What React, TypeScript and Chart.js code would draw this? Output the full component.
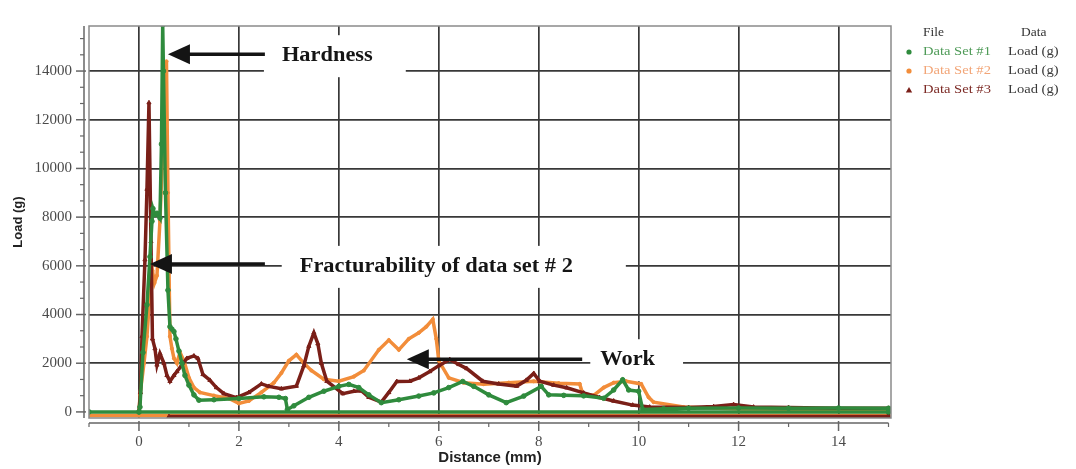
import React, { useEffect, useRef } from "react";
import { Chart, registerables } from "chart.js";

Chart.register(...registerables);

// ---------- data ----------
const seriesNames = ["Data Set #1", "Data Set #2", "Data Set #3"];
const dataColumnLabel = "Load (g)";

const xTicks = [0, 2, 4, 6, 8, 10, 12, 14];
const xMinorTicks = [-1, 1, 3, 5, 7, 9, 11, 13, 15];
const yTicks = [0, 2000, 4000, 6000, 8000, 10000, 12000, 14000];

// [distance (mm), load (g)]
const dataSet1: [number, number][] = [
  [-1, 0], [0, 0], [0.02, 200], [0.08, 2440], [0.16, 4400], [0.22, 6370], [0.26, 7830],
  [0.28, 8350], [0.32, 8100], [0.36, 8160], [0.42, 7960], [0.45, 11000], [0.475, 15900],
  [0.49, 14000], [0.53, 9000], [0.58, 5000], [0.62, 3500], [0.66, 3400], [0.7, 3300],
  [0.74, 3000], [0.8, 2500], [0.86, 2000], [0.92, 1500], [1.0, 1100], [1.1, 700],
  [1.2, 480], [1.5, 500], [2.0, 550], [2.5, 620], [2.8, 600], [2.93, 550], [2.97, 100],
  [3.1, 250], [3.4, 600], [3.7, 850], [4.0, 1050], [4.2, 1130], [4.4, 1000], [4.6, 700],
  [4.85, 380], [5.2, 500], [5.6, 650], [5.9, 780], [6.2, 1000], [6.48, 1250], [6.7, 1050],
  [7.0, 700], [7.35, 380], [7.7, 650], [8.05, 1050], [8.2, 700], [8.5, 680], [8.9, 660],
  [9.3, 560], [9.5, 900], [9.68, 1320], [9.8, 900], [10.0, 850], [10.08, 100], [10.5, 130],
  [11, 150], [12, 160], [13, 150], [14, 160], [15, 150], [15, 0], [0, 0],
];

const dataSet2: [number, number][] = [
  [-1, -150], [0, -150], [0.02, 700], [0.1, 2000], [0.16, 3100], [0.22, 4900], [0.27, 5800],
  [0.31, 5300], [0.36, 5600], [0.42, 7850], [0.48, 11000], [0.53, 13500], [0.55, 14400],
  [0.58, 9000], [0.62, 3100], [0.66, 2600], [0.7, 2200], [0.76, 2000], [0.82, 2450],
  [0.9, 2100], [1.0, 1400], [1.1, 1000], [1.22, 800], [1.5, 670], [1.8, 550], [2.0, 350],
  [2.2, 450], [2.45, 800], [2.7, 1200], [2.85, 1600], [3.0, 2100], [3.15, 2350], [3.3, 2000],
  [3.45, 1700], [3.7, 1340], [4.0, 1260], [4.3, 1450], [4.5, 1700], [4.8, 2550], [5.0, 2950],
  [5.2, 2550], [5.4, 3000], [5.6, 3250], [5.75, 3500], [5.88, 3800], [5.95, 3000],
  [6.0, 2100], [6.2, 1400], [6.5, 1200], [6.9, 1140], [7.4, 1200], [7.9, 1260], [8.4, 1180],
  [8.82, 1150], [8.88, 750], [9.1, 680], [9.3, 1000], [9.5, 1200], [9.75, 1260],
  [10.05, 1150], [10.2, 600], [10.3, 400], [10.9, 200], [12, 120], [13, 110], [14, 100],
  [15, 100], [15, -150], [0, -150],
];

const dataSet3: [number, number][] = [
  [0, 0], [0.03, 800], [0.06, 3100], [0.12, 6250], [0.16, 9150], [0.2, 12700], [0.24, 7000],
  [0.27, 3000], [0.32, 2600], [0.36, 1930], [0.42, 2400], [0.5, 2000], [0.56, 1500],
  [0.62, 1260], [0.7, 1500], [0.76, 1660], [0.85, 1900], [0.96, 2200], [1.1, 2300],
  [1.18, 2200], [1.28, 1540], [1.42, 1300], [1.55, 1000], [1.7, 750], [1.95, 590],
  [2.2, 800], [2.45, 1150], [2.6, 1050], [2.85, 950], [3.15, 1060], [3.3, 1900], [3.4, 2700],
  [3.5, 3250], [3.58, 2800], [3.65, 2000], [3.76, 1260], [4.08, 750], [4.3, 850], [4.45, 870],
  [4.6, 600], [4.85, 400], [5.0, 800], [5.16, 1250], [5.42, 1260], [5.6, 1400], [5.82, 1660],
  [6.0, 1900], [6.22, 2150], [6.4, 1950], [6.56, 1780], [6.88, 1260], [7.2, 1150],
  [7.56, 1060], [7.75, 1300], [7.9, 1580], [8.02, 1260], [8.3, 1100], [8.56, 990],
  [8.9, 780], [9.22, 590], [9.5, 450], [9.88, 280], [10.22, 200], [11, 180], [11.5, 220],
  [11.9, 300], [12.3, 200], [13, 180], [14, 150], [15, 150], [15, -190], [0.6, -190],
];

// annotation anchors in data units
const annotations = [
  { text: "Hardness", tipX: 0.58, tipY: 14690, tailX: 2.52, textX: 3.77, textY: 14610, padL: 18, padR: 33 },
  { text: "Fracturability of data set # 2", tipX: 0.22, tipY: 6076, tailX: 2.52, textX: 5.95, textY: 5957, padL: 18, padR: 53 },
  { text: "Work", tipX: 5.36, tipY: 2162, tailX: 8.87, textX: 9.78, textY: 2123, padL: 10, padR: 28 },
];

// ---------- styles ----------
const GREEN = "#2f8b3d";
const ORANGE = "#f28d3a";
const RED = "#7a1f18";
const LEGEND_TEXT = ["#4f9b58", "#f2a577", "#7d2b26"];
const STRETCH = 1.12;
const SERIF = "'Liberation Serif', 'Times New Roman', serif";
const SANS = "'Liberation Sans', Arial, sans-serif";

function drawStretchedText(ctx: CanvasRenderingContext2D, text: string, x: number, y: number, font: string, color: string, align: CanvasTextAlign = "left") {
  ctx.save();
  ctx.translate(x, y);
  ctx.scale(STRETCH, 1);
  ctx.font = font;
  ctx.fillStyle = color;
  ctx.textAlign = align;
  ctx.textBaseline = "middle";
  ctx.fillText(text, 0, 0);
  ctx.restore();
}

const decorPlugin = {
  id: "decor",
  beforeDatasetsDraw(chart: any) {
    const { ctx, scales } = chart;
    const xs = scales.x, ys = scales.y;
    ctx.save();
    ctx.fillStyle = "#ffffff";
    ctx.font = `bold 20px ${SERIF}`;
    for (const an of annotations) {
      const cx = xs.getPixelForValue(an.textX);
      const cy = ys.getPixelForValue(an.textY);
      const w = ctx.measureText(an.text).width * STRETCH;
      ctx.fillRect(cx - w / 2 - an.padL, cy - 21, w + an.padL + an.padR, 42);
    }
    ctx.restore();
  },
  afterDatasetsDraw(chart: any) {
    const { ctx, scales } = chart;
    const xs = scales.x, ys = scales.y;
    for (const an of annotations) {
      const tx = xs.getPixelForValue(an.tipX);
      const ty = ys.getPixelForValue(an.tipY);
      const ex = xs.getPixelForValue(an.tailX);
      ctx.save();
      ctx.strokeStyle = "#141414";
      ctx.fillStyle = "#141414";
      ctx.lineWidth = 3.5;
      ctx.beginPath();
      ctx.moveTo(tx + 18, ty);
      ctx.lineTo(ex, ty);
      ctx.stroke();
      ctx.beginPath();
      ctx.moveTo(tx, ty);
      ctx.lineTo(tx + 22, ty - 10);
      ctx.lineTo(tx + 22, ty + 10);
      ctx.closePath();
      ctx.fill();
      ctx.restore();
      drawStretchedText(ctx, an.text, xs.getPixelForValue(an.textX), ys.getPixelForValue(an.textY), `bold 20px ${SERIF}`, "#151515", "center");
    }
  },
  afterDraw(chart: any) {
    const { ctx, chartArea: a, scales } = chart;
    const xs = scales.x, ys = scales.y;
    ctx.save();
    // plot frame
    ctx.strokeStyle = "#8a8a8a";
    ctx.lineWidth = 1.5;
    ctx.strokeRect(a.left, a.top, a.right - a.left, a.bottom - a.top);
    // detached y axis
    const ax = a.left - 5;
    ctx.strokeStyle = "#666";
    ctx.beginPath();
    ctx.moveTo(ax, a.top);
    ctx.lineTo(ax, a.bottom);
    ctx.stroke();
    for (const v of yTicks) {
      const py = ys.getPixelForValue(v);
      ctx.beginPath();
      ctx.moveTo(ax - 8, py);
      ctx.lineTo(ax + 2, py);
      ctx.stroke();
    }
    ctx.lineWidth = 1.2;
    for (let k = 1; k * (2000 / 3) < ys.max; k++) {
      if (k % 3 === 0) continue;
      const py = ys.getPixelForValue(k * (2000 / 3));
      ctx.beginPath();
      ctx.moveTo(ax - 4, py);
      ctx.lineTo(ax, py);
      ctx.stroke();
    }
    // detached x axis
    const ay = a.bottom + 5;
    ctx.lineWidth = 1.5;
    ctx.beginPath();
    ctx.moveTo(xs.getPixelForValue(-1), ay);
    ctx.lineTo(xs.getPixelForValue(15), ay);
    ctx.stroke();
    for (const v of xTicks) {
      const px = xs.getPixelForValue(v);
      ctx.beginPath();
      ctx.moveTo(px, ay - 2);
      ctx.lineTo(px, ay + 8);
      ctx.stroke();
    }
    ctx.lineWidth = 1.2;
    for (const v of xMinorTicks) {
      const px = xs.getPixelForValue(v);
      ctx.beginPath();
      ctx.moveTo(px, ay);
      ctx.lineTo(px, ay + 4);
      ctx.stroke();
    }
    ctx.restore();

    // legend
    const lx = 909;
    drawStretchedText(ctx, "File", 923, 33, `12px ${SERIF}`, "#333");
    drawStretchedText(ctx, "Data", 1021, 33, `12px ${SERIF}`, "#333");
    const colors = [GREEN, ORANGE, RED];
    const rows = [52, 71, 90];
    seriesNames.forEach((name, i) => {
      const ry = rows[i];
      ctx.save();
      ctx.fillStyle = colors[i];
      ctx.beginPath();
      if (i === 2) {
        ctx.moveTo(lx, ry - 3);
        ctx.lineTo(lx + 3.2, ry + 2.5);
        ctx.lineTo(lx - 3.2, ry + 2.5);
        ctx.closePath();
      } else {
        ctx.arc(lx, ry, 2.6, 0, Math.PI * 2);
      }
      ctx.fill();
      ctx.restore();
      drawStretchedText(ctx, name, 923, ry, `13px ${SERIF}`, LEGEND_TEXT[i]);
      drawStretchedText(ctx, dataColumnLabel, 1008, ry, `13px ${SERIF}`, "#3a3a3a");
    });
  },
};

const toPoints = (arr: [number, number][]) => arr.map(([x, y]) => ({ x, y }));

export default function App() {
  const ref = useRef<HTMLCanvasElement>(null);
  useEffect(() => {
    if (!ref.current) return;
    const chart = new Chart(ref.current, {
      type: "scatter",
      data: {
        datasets: [
          {
            label: seriesNames[0], data: toPoints(dataSet1), showLine: true, order: 0,
            borderColor: GREEN, backgroundColor: GREEN, borderWidth: 3.5,
            pointRadius: 2.3, pointStyle: "circle", pointBorderWidth: 1,
          },
          {
            label: seriesNames[1], data: toPoints(dataSet2), showLine: true, order: 2,
            borderColor: ORANGE, backgroundColor: ORANGE, borderWidth: 3.5,
            pointRadius: 1.6, pointStyle: "circle", pointBorderWidth: 1,
          },
          {
            label: seriesNames[2], data: toPoints(dataSet3), showLine: true, order: 1,
            borderColor: RED, backgroundColor: RED, borderWidth: 3.5,
            pointRadius: 2.4, pointStyle: "triangle", pointBorderWidth: 1,
          },
        ],
      },
      options: {
        animation: false,
        responsive: false,
        maintainAspectRatio: false,
        layout: { padding: { left: 0, right: 185, top: 11, bottom: 0 } },
        plugins: { legend: { display: false }, tooltip: { enabled: false } },
        scales: {
          x: {
            type: "linear",
            min: -1,
            max: 15.05,
            afterBuildTicks: (s: any) => { s.ticks = xTicks.map((v) => ({ value: v })); },
            afterFit: (s: any) => { s.height = 51; },
            grid: { color: "#383838", lineWidth: 1.7, drawTicks: false },
            border: { display: false },
            ticks: {
              padding: 15, color: "#4a4a4a", autoSkip: false, maxRotation: 0,
              font: { family: SERIF, size: 15 },
              callback: (v: any) => String(v),
            },
            title: {
              display: true, text: "Distance (mm)", color: "#222",
              font: { family: SANS, size: 15, weight: "bold" },
              padding: { top: 0, bottom: 2 },
            },
          },
          y: {
            type: "linear",
            min: -250,
            max: 15850,
            afterBuildTicks: (s: any) => { s.ticks = yTicks.map((v) => ({ value: v })); },
            afterFit: (s: any) => { s.width = 89; },
            grid: { color: "#383838", lineWidth: 1.7, drawTicks: false },
            border: { display: false },
            ticks: {
              padding: 17, color: "#4a4a4a",
              font: { family: SERIF, size: 15 },
              callback: (v: any) => String(v),
            },
            title: {
              display: true, text: "Load (g)", color: "#222",
              font: { family: SANS, size: 13, weight: "bold" },
              padding: { top: 11, bottom: 0 },
            },
          },
        },
      },
      plugins: [decorPlugin],
    } as any);
    return () => chart.destroy();
  }, []);
  return (
    <div style={{ position: "fixed", left: 0, top: 0, width: 1076, height: 469, background: "#fff" }}>
      <canvas ref={ref} width={1076} height={469} style={{ display: "block", width: 1076, height: 469 }} />
    </div>
  );
}
